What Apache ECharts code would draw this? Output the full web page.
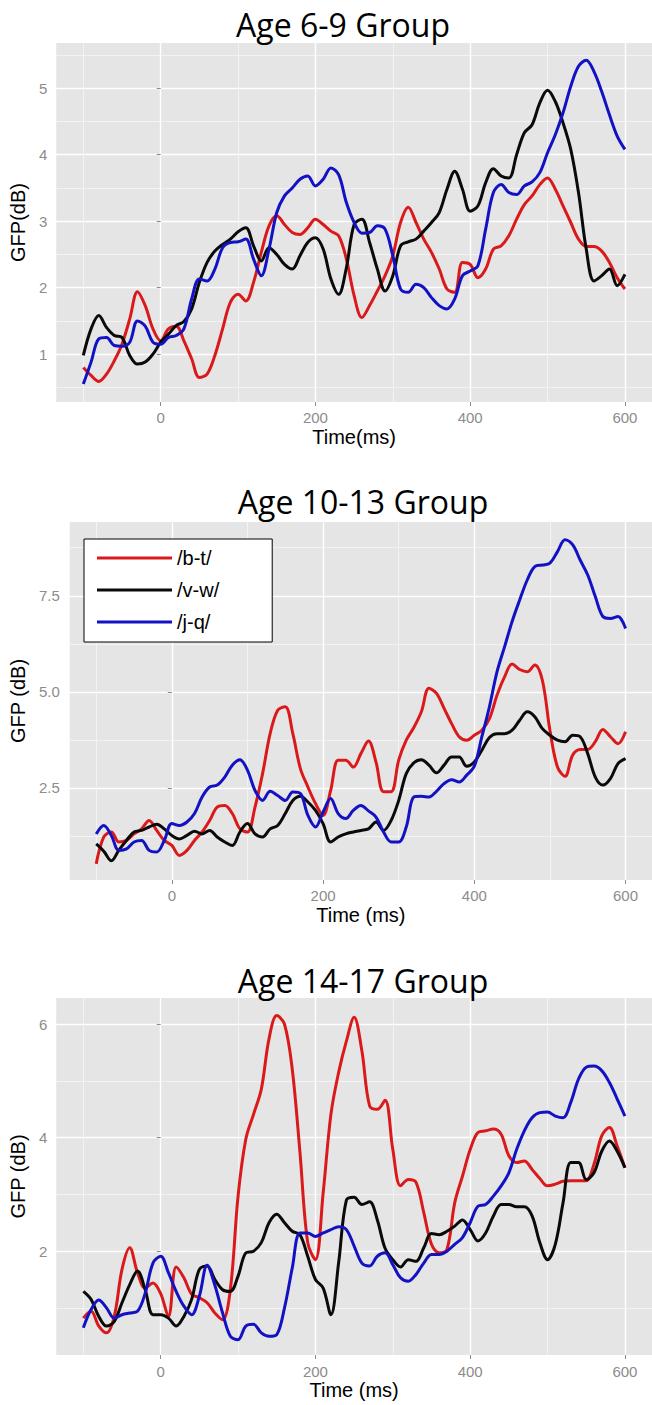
<!DOCTYPE html>
<html><head><meta charset="utf-8">
<script src="https://cdn.jsdelivr.net/npm/echarts@6/dist/echarts.min.js"></script>
<style>html,body{margin:0;padding:0;background:#fff}#c{width:652px;height:1405px}</style>
</head><body><div id="c"></div>
<script>
// ---------- data ----------
const times = [-100,-90,-80,-70,-60,-50,-40,-30,-20,-10,
  0,10,20,30,40,50,60,70,80,90,
  100,110,120,130,140,150,160,170,180,190,
  200,210,220,230,240,250,260,270,280,290,
  300,310,320,330,340,350,360,370,380,390,
  400,410,420,430,440,450,460,470,480,490,
  500,510,520,530,540,550,560,570,580,590,
  600];
const seriesNames = ['/b-t/', '/v-w/', '/j-q/'];
const panelTitles = ['Age 6-9 Group', 'Age 10-13 Group', 'Age 14-17 Group'];
const xTitles = ['Time(ms)', 'Time (ms)', 'Time (ms)'];
const yTitles = ['GFP(dB)', 'GFP (dB)', 'GFP (dB)'];
const xMajorTicks = [0, 200, 400, 600];
const xMinorTicks = [-100, 100, 300, 500];
const yMajorTicks = [[1, 2, 3, 4, 5], [2.5, 5, 7.5], [2, 4, 6]];
const yMinorTicks = [[0.5, 1.5, 2.5, 3.5, 4.5, 5.5], [1.25, 3.75, 6.25, 8.75], [1, 3, 5]];
const yDecimals = [0, 1, 0];

// Age 6-9
const p1Red = [0.80,0.68,0.59,0.70,0.90,1.15,1.53,1.94,1.73,1.38,
  1.20,1.38,1.42,1.20,0.93,0.65,0.70,0.98,1.38,1.78,
  1.90,1.80,2.08,2.53,2.93,3.08,2.95,2.83,2.80,2.90,
  3.03,2.95,2.85,2.78,2.43,1.88,1.55,1.73,1.95,2.18,
  2.48,2.98,3.21,2.98,2.73,2.53,2.28,1.98,1.93,2.38,
  2.35,2.15,2.28,2.58,2.63,2.78,3.03,3.25,3.38,3.55,
  3.65,3.48,3.23,2.98,2.73,2.62,2.62,2.55,2.38,2.15,
  1.98];
const p1Black = [0.98,1.38,1.58,1.40,1.28,1.25,0.98,0.85,0.88,1.00,
  1.18,1.30,1.43,1.49,1.68,2.08,2.38,2.55,2.65,2.73,
  2.84,2.90,2.63,2.40,2.60,2.50,2.35,2.28,2.48,2.68,
  2.75,2.58,2.13,1.90,2.30,2.95,3.03,2.68,2.28,1.95,
  2.18,2.63,2.69,2.73,2.85,2.98,3.13,3.48,3.75,3.48,
  3.15,3.23,3.58,3.79,3.68,3.65,4.00,4.33,4.45,4.78,
  4.97,4.80,4.48,4.08,3.43,2.58,2.10,2.18,2.28,2.03,
  2.20];
const p1Blue = [0.55,0.88,1.23,1.25,1.13,1.12,1.18,1.50,1.42,1.18,
  1.15,1.25,1.28,1.38,1.83,2.13,2.10,2.28,2.60,2.68,
  2.69,2.73,2.43,2.18,2.58,3.13,3.38,3.50,3.63,3.68,
  3.53,3.63,3.80,3.70,3.28,2.98,2.82,2.83,2.93,2.88,
  2.48,1.98,1.93,2.05,2.00,1.85,1.73,1.68,1.83,2.18,
  2.25,2.33,2.88,3.43,3.55,3.43,3.40,3.53,3.59,3.73,
  4.03,4.30,4.63,5.03,5.33,5.42,5.25,4.95,4.60,4.28,
  4.08];
// Age 10-13
const p2Red = [0.52,1.22,1.35,1.09,1.13,1.30,1.43,1.65,1.39,1.13,
  1.00,0.74,0.87,1.13,1.35,1.65,2.00,2.04,1.83,1.43,
  1.35,2.00,2.87,3.91,4.52,4.61,3.91,3.00,2.52,2.09,
  1.78,2.43,3.22,3.22,3.04,3.39,3.72,3.17,2.40,2.40,
  3.22,3.74,4.07,4.48,5.09,4.96,4.57,4.17,3.83,3.74,
  3.87,4.00,4.30,4.91,5.39,5.72,5.58,5.52,5.70,5.30,
  4.00,3.04,2.80,3.35,3.50,3.50,3.70,4.02,3.83,3.65,
  3.96];
const p2Black = [1.04,0.85,0.60,0.88,1.13,1.35,1.39,1.48,1.55,1.43,
  1.26,1.17,1.26,1.37,1.30,1.39,1.22,1.09,1.00,1.35,
  1.57,1.30,1.22,1.43,1.52,1.83,2.17,2.28,2.13,1.91,
  1.57,1.09,1.22,1.30,1.35,1.39,1.43,1.61,1.39,1.65,
  2.17,2.87,3.15,3.23,3.09,2.89,3.09,3.30,3.30,3.06,
  3.17,3.48,3.81,3.91,3.91,4.00,4.26,4.48,4.35,4.04,
  3.87,3.74,3.70,3.87,3.83,3.39,2.78,2.57,2.74,3.13,
  3.26];
const p2Blue = [1.30,1.52,1.26,0.87,0.91,1.09,1.13,0.87,0.83,1.13,
  1.57,1.52,1.61,1.83,2.26,2.52,2.57,2.78,3.09,3.23,
  2.96,2.43,2.17,2.41,2.30,2.17,2.39,2.35,1.78,1.48,
  1.87,2.22,1.83,1.70,1.91,2.04,1.90,1.74,1.35,1.09,
  1.09,1.48,2.26,2.28,2.26,2.41,2.61,2.71,2.65,2.83,
  3.06,3.83,4.61,5.52,6.17,6.83,7.39,7.91,8.26,8.30,
  8.35,8.65,8.96,8.83,8.43,8.04,7.48,6.96,6.91,6.96,
  6.65];
// Age 14-17
const p3Red = [0.82,0.94,0.68,0.56,0.85,1.68,2.06,1.62,1.35,1.44,
  1.25,0.85,1.72,1.53,1.24,1.18,1.09,0.91,0.79,1.32,
  2.97,3.97,4.41,4.85,5.74,6.15,6.00,5.21,3.74,2.15,
  1.85,3.03,4.41,5.15,5.70,6.12,5.53,4.56,4.50,4.66,
  3.79,3.15,3.26,3.21,2.68,2.12,1.97,2.03,2.85,3.32,
  3.79,4.09,4.12,4.15,4.06,3.68,3.56,3.59,3.44,3.28,
  3.15,3.18,3.23,3.24,3.24,3.24,3.53,4.03,4.18,3.85,
  3.47];
const p3Black = [1.29,1.15,0.85,0.68,0.76,1.09,1.41,1.65,1.32,0.88,
  0.88,0.82,0.68,0.85,1.15,1.68,1.74,1.50,1.32,1.29,
  1.56,1.97,2.00,2.15,2.50,2.65,2.50,2.35,2.29,1.91,
  1.50,1.35,0.88,1.80,2.90,2.95,2.82,2.87,2.55,2.05,
  1.85,1.72,1.85,1.82,2.06,2.31,2.29,2.35,2.44,2.55,
  2.38,2.18,2.32,2.62,2.82,2.82,2.78,2.78,2.62,2.15,
  1.85,2.12,2.85,3.56,3.56,3.26,3.38,3.76,3.94,3.76,
  3.47];
const p3Blue = [0.65,0.97,1.14,1.00,0.82,0.88,0.91,0.94,1.26,1.79,
  1.91,1.62,1.29,1.03,0.88,1.21,1.75,1.40,0.91,0.50,
  0.44,0.68,0.71,0.56,0.50,0.53,1.00,1.70,2.32,2.32,
  2.26,2.32,2.38,2.43,2.38,2.09,1.79,1.74,1.91,1.97,
  1.76,1.53,1.47,1.59,1.79,1.94,1.94,2.00,2.12,2.24,
  2.50,2.79,2.82,2.97,3.15,3.38,3.79,4.12,4.35,4.44,
  4.45,4.38,4.35,4.62,5.03,5.24,5.26,5.18,4.97,4.68,
  4.38];

const panelData = [[p1Red, p1Black, p1Blue], [p2Red, p2Black, p2Blue], [p3Red, p3Black, p3Blue]];

// ---------- layout / style ----------
const colors = ['#DA1A1A', '#0A0A0A', '#1212C4'];
const grids = [
  {left: 51, top: 43, width: 603, height: 359},
  {left: 65, top: 522, width: 588, height: 358},
  {left: 51, top: 998, width: 603, height: 357}
];
const xExtent = [-135, 635];
const yExtents = [[0.28, 5.68], [0.10, 9.42], [0.17, 6.46]];
const yNameGaps = [20, 32, 20];
const xLabelMargins = [8, 8, 9];
const yLabelMargins = [9, 10, 9];
const titlePos = [[343, 24], [363, 501], [363, 980]];
const tickGrey = '#8C8C8C';
const axisFont = 'Liberation Sans';

const xAxes = [], yAxes = [], series = [];
grids.forEach((g, i) => {
  xAxes.push({
    gridIndex: i, type: 'value', min: xExtent[0], max: xExtent[1], position: 'bottom',
    axisLine: {show: false},
    axisTick: {show: true, length: 4, lineStyle: {color: tickGrey, width: 1}, customValues: xMajorTicks},
    axisLabel: {customValues: xMajorTicks, color: tickGrey, fontSize: 15, fontFamily: axisFont, margin: xLabelMargins[i]},
    splitLine: {show: true, lineStyle: {color: '#FFFFFF', width: 1.4}},
    name: xTitles[i], nameLocation: 'middle', nameGap: 25,
    nameTextStyle: {color: '#000', fontSize: 20, fontFamily: axisFont}
  });
  xAxes.push({
    gridIndex: i, type: 'value', min: xExtent[0], max: xExtent[1], position: 'top',
    axisLine: {show: false},
    axisTick: {show: false, customValues: xMinorTicks},
    axisLabel: {show: false, customValues: xMinorTicks},
    splitLine: {show: true, lineStyle: {color: '#F3F3F3', width: 1}}
  });
  const dec = yDecimals[i];
  yAxes.push({
    gridIndex: i, type: 'value', min: yExtents[i][0], max: yExtents[i][1], position: 'left',
    axisLine: {show: false},
    axisTick: {show: true, length: 4, lineStyle: {color: tickGrey, width: 1}, customValues: yMajorTicks[i]},
    axisLabel: {customValues: yMajorTicks[i], color: tickGrey, fontSize: 15, fontFamily: axisFont,
      margin: yLabelMargins[i], formatter: v => Number(v).toFixed(dec)},
    splitLine: {show: true, lineStyle: {color: '#FFFFFF', width: 1.4}},
    name: yTitles[i], nameLocation: 'middle', nameGap: yNameGaps[i],
    nameTextStyle: {color: '#000', fontSize: 20, fontFamily: axisFont}
  });
  yAxes.push({
    gridIndex: i, type: 'value', min: yExtents[i][0], max: yExtents[i][1], position: 'right',
    axisLine: {show: false},
    axisTick: {show: false, customValues: yMinorTicks[i]},
    axisLabel: {show: false, customValues: yMinorTicks[i]},
    splitLine: {show: true, lineStyle: {color: '#F3F3F3', width: 1}}
  });
  panelData[i].forEach((arr, s) => {
    series.push({
      type: 'line', name: seriesNames[s],
      xAxisIndex: 2 * i, yAxisIndex: 2 * i,
      data: times.map((t, k) => [t, arr[k]]),
      showSymbol: false, smooth: 0.35, silent: true,
      lineStyle: {color: colors[s], width: 3},
      itemStyle: {color: colors[s]},
      z: 3
    });
  });
});

const chart = echarts.init(document.getElementById('c'), null, {renderer: 'svg', width: 652, height: 1405});
chart.setOption({
  backgroundColor: '#FFFFFF',
  animation: false,
  grid: grids.map(g => Object.assign({show: true, backgroundColor: '#E5E5E5', borderWidth: 0}, g)),
  xAxis: xAxes,
  yAxis: yAxes,
  series: series,
  legend: {
    data: seriesNames, left: 84, top: 539, orient: 'vertical',
    backgroundColor: '#FFFFFF', borderColor: '#000', borderWidth: 1, borderRadius: 0,
    padding: [9, 53, 10, 13], itemWidth: 75, itemHeight: 3, itemGap: 12, icon: 'rect',
    selectedMode: false,
    textStyle: {fontSize: 20, color: '#000', fontFamily: axisFont}
  },
  graphic: panelTitles.map((t, i) => ({
    type: 'text', x: titlePos[i][0], y: titlePos[i][1],
    style: {text: t, fontSize: 32, fontFamily: 'Open Sans', fill: '#000', align: 'center', verticalAlign: 'middle'}
  }))
});
</script>
</body></html>
